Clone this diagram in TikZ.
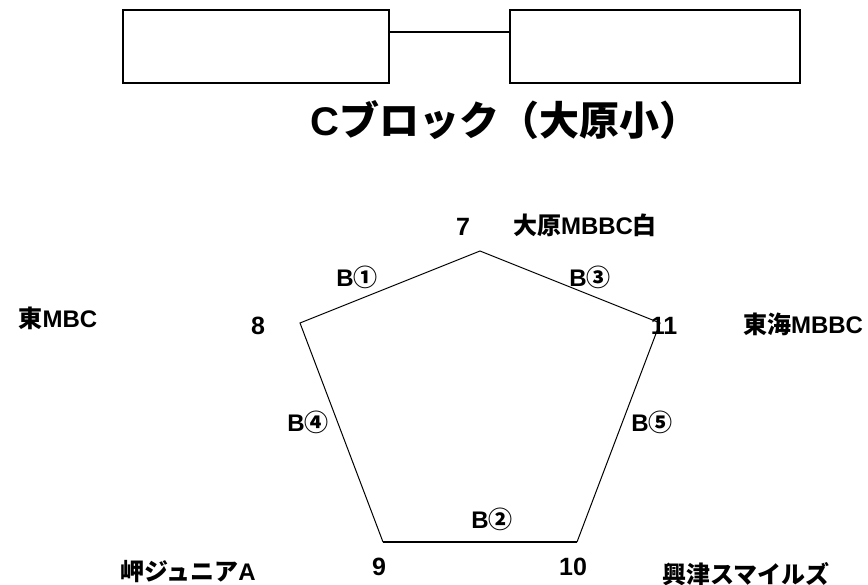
\documentclass[tikz,border=0pt]{standalone}
\usepackage{fontspec}
\setmainfont{Liberation Sans}
\newfontfamily\jp{Noto Sans CJK JP}
\usetikzlibrary{positioning}

\tikzset{
  box/.style={draw,line width=2pt,inner sep=0pt,minimum height=73pt},
  lbl/.style={font=\bfseries\fontsize{24pt}{24pt}\selectfont,inner sep=0pt},
  num/.style={font=\bfseries\fontsize{25pt}{25pt}\selectfont,inner sep=0pt},
  side/.style={line width=1pt}
}

\begin{document}
\begin{tikzpicture}[x=1pt,y=-1pt]
            \useasboundingbox (0,0) rectangle (868,585);
            % top boxes
            \node[box,minimum width=266pt] (box1) at (256,46.5) {};
            \node[box,minimum width=290pt] (box2) at (655,46.5) {};
            \draw[line width=2pt] ([yshift=-23pt]box1.north east) -- ([yshift=-23pt]box2.north west);
            \node[inner sep=0pt,font=\bfseries\fontsize{40pt}{40pt}\selectfont] (title) at (505,120) {C{\jp ブロック（大原小）}};
            % pentagon
            \coordinate (v7) at (480,251);
            \coordinate (v8) at (300,323);
            \coordinate (v11) at (660,323);
            \coordinate (v10) at (577,542);
            \coordinate (v9) at (383,542);
            \draw[side] (v9) -- (v8) -- (v7) -- (v11) -- (v10);
            \draw[line width=2pt] (v9) -- (v10);
            % numbers
            \node[num] (n7) at (463,227) {7};
            \node[num] (n8) at (258,326) {8};
            \node[num] (n9) at (379,567) {9};
            \node[num] (n10) at (573,567) {10};
            \node[num] (n11) at (664,326) {11};
            % teams
            \node[lbl] (t7) at (585,225) {{\jp 大原}MBBC{\jp 白}};
            \node[lbl] (t8) at (58,318) {{\jp 東}MBC};
            \node[lbl] (t9) at (188,572) {{\jp 岬ジュニア}A};
            \node[lbl] (t10) at (746,574) {\jp 興津スマイルズ};
            \node[lbl] (t11) at (803,324) {{\jp 東海}MBBC};
            % games
            \node[lbl] (g1) at (357,277) {B{\jp ①}};
            \node[lbl] (g2) at (492,519) {B{\jp ②}};
            \node[lbl] (g3) at (590,277) {B{\jp ③}};
            \node[lbl] (g4) at (308,422) {B{\jp ④}};
            \node[lbl] (g5) at (652,422) {B{\jp ⑤}};
\end{tikzpicture}
\end{document}
